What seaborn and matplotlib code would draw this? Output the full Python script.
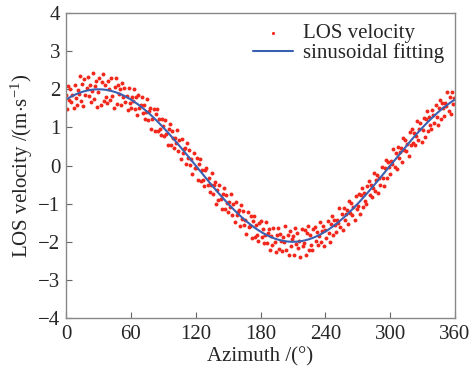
import matplotlib
matplotlib.use('Agg')
import matplotlib.pyplot as plt
import seaborn as sns
import numpy as np
import pandas as pd

# azimuth in degrees, one sample per degree
azimuth = np.arange(0, 360)

# LOS velocity (m/s), 10 degrees per row
los_velocity = [
    1.85, 1.47, 2.08, 1.73, 2.00, 1.66, 1.85, 1.51, 2.11, 1.77,
    1.59, 1.99, 1.87, 2.35, 1.69, 2.13, 1.55, 2.26, 1.86, 2.03,
    2.33, 1.82, 2.11, 1.66, 1.95, 2.42, 1.74, 2.08, 2.23, 1.54,
    1.92, 2.29, 1.58, 2.18, 2.39, 1.68, 2.11, 1.81, 1.63, 2.23,
    2.01, 1.71, 2.29, 1.83, 1.50, 2.07, 2.30, 1.61, 2.11, 1.88,
    2.00, 1.59, 2.16, 1.79, 2.03, 1.66, 1.82, 1.45, 2.03, 1.65,
    1.51, 1.79, 1.68, 2.02, 1.48, 1.79, 1.32, 1.84, 1.50, 1.60,
    1.81, 1.39, 1.59, 1.21, 1.41, 1.74, 1.19, 1.42, 1.52, 0.96,
    1.23, 1.48, 0.91, 1.34, 1.48, 0.91, 1.21, 0.95, 0.79, 1.22,
    1.03, 0.78, 1.19, 0.82, 0.54, 0.96, 1.10, 0.55, 0.91, 0.71,
    0.46, 0.73, 0.60, 0.92, 0.37, 0.67, 0.18, 0.69, 0.34, 0.43,
    0.47, 0.03, 0.59, 0.19, 0.41, 0.02, 0.16, -0.23, 0.33, -0.07,
    -0.06, 0.19, -0.39, 0.04, 0.16, -0.41, -0.12, -0.38, -0.55, -0.12,
    -0.07, -0.50, -0.32, -0.70, -0.51, -0.19, -0.75, -0.52, -0.44, -1.00,
    -0.65, -0.91, -0.50, -0.87, -1.15, -0.74, -0.59, -1.14, -0.78, -0.98,
    -1.22, -0.95, -1.08, -0.75, -1.30, -1.00, -1.48, -0.96, -1.31, -1.21,
    -1.17, -1.59, -1.03, -1.41, -1.19, -1.56, -1.42, -1.79, -1.23, -1.61,
    -1.59, -1.33, -1.90, -1.46, -1.32, -1.88, -1.57, -1.82, -1.97, -1.52,
    -1.45, -1.87, -1.67, -2.03, -1.83, -1.48, -2.03, -1.78, -1.67, -2.22,
    -1.85, -2.08, -1.65, -2.00, -2.26, -1.82, -1.65, -2.18, -1.80, -1.97,
    -2.23, -1.88, -2.00, -1.58, -2.21, -1.81, -2.36, -1.71, -2.10, -1.94,
    -1.86, -2.34, -1.63, -2.06, -1.76, -2.17, -1.97, -2.39, -1.67, -2.10,
    -2.04, -1.70, -2.34, -1.78, -1.58, -2.22, -1.81, -2.08, -2.22, -1.66,
    -1.60, -1.99, -1.75, -2.09, -1.86, -1.48, -2.00, -1.72, -1.59, -2.10,
    -1.70, -1.90, -1.45, -1.77, -2.00, -1.53, -1.33, -1.83, -1.42, -1.56,
    -1.75, -1.43, -1.51, -1.12, -1.62, -1.26, -1.69, -1.12, -1.42, -1.26,
    -1.17, -1.54, -0.92, -1.25, -0.98, -1.30, -1.10, -1.42, -0.80, -1.13,
    -1.06, -0.75, -1.26, -0.77, -0.58, -1.09, -0.72, -0.92, -1.02, -0.53,
    -0.40, -0.77, -0.52, -0.83, -0.58, -0.19, -0.68, -0.39, -0.24, -0.73,
    -0.32, -0.50, -0.03, -0.33, -0.55, -0.06, 0.15, -0.33, 0.09, -0.04,
    -0.22, 0.11, 0.05, 0.44, -0.04, 0.32, -0.09, 0.48, 0.20, 0.36,
    0.47, 0.10, 0.73, 0.40, 0.68, 0.37, 0.57, 0.25, 0.88, 0.55,
    0.96, 0.60, 0.85, 0.53, 0.78, 1.18, 0.68, 0.97, 1.12, 0.62,
    0.94, 1.25, 0.74, 1.23, 1.42, 0.91, 1.27, 1.06, 0.96, 1.45,
    1.32, 1.12, 1.59, 1.27, 1.05, 1.52, 1.73, 1.23, 1.65, 1.50,
    1.31, 1.63, 1.56, 1.94, 1.44, 1.79, 1.36, 1.92, 1.62, 1.76,
]

x_ticks = [0, 60, 120, 180, 240, 300, 360]
y_ticks = [-4, -3, -2, -1, 0, 1, 2, 3, 4]

df = pd.DataFrame({'azimuth': azimuth, 'velocity': los_velocity})

# least squares sinusoid: v = a*cos + b*sin + c
rad = np.deg2rad(df['azimuth'])
A = np.column_stack([np.cos(rad), np.sin(rad), np.ones(len(rad))])
coef, *_ = np.linalg.lstsq(A, df['velocity'], rcond=None)
fit_az = np.linspace(0, 360, 361)
fit_rad = np.deg2rad(fit_az)
fit_df = pd.DataFrame({'azimuth': fit_az,
                       'velocity': coef[0] * np.cos(fit_rad) + coef[1] * np.sin(fit_rad) + coef[2]})

sns.set_theme(style='ticks')
plt.rcParams['font.family'] = ['Liberation Serif', 'DejaVu Serif']
plt.rcParams['mathtext.fontset'] = 'custom'
plt.rcParams['mathtext.rm'] = 'Liberation Serif'
plt.rcParams['mathtext.it'] = 'Liberation Serif:italic'

fig = plt.figure(figsize=(4.73, 3.73), dpi=100)
ax = fig.add_axes([0.1395, 0.1475, 0.8225, 0.8175])

sns.scatterplot(data=df, x='azimuth', y='velocity', ax=ax, color='#f2281c',
                s=8, linewidth=0, label='LOS velocity')
sns.lineplot(data=fit_df, x='azimuth', y='velocity', ax=ax, color='#3a60b2',
             linewidth=1.5, label='sinusoidal fitting')

ax.set_xlim(0, 360)
ax.set_ylim(-4, 4)
ax.set_xticks(x_ticks)
ax.set_yticks(y_ticks)
ax.tick_params(direction='in', length=4, width=0.8, labelsize=15, color='#666666')
ax.tick_params(axis='x', pad=5)
ax.tick_params(axis='y', pad=4)
for sp in ax.spines.values():
    sp.set_color('#888888')
    sp.set_linewidth(1.0)

ax.set_xlabel('Azimuth /(°)', fontsize=15, labelpad=2)
ax.set_ylabel(r'LOS velocity /(m$\cdot$s$^{-1}$)', fontsize=15, labelpad=2)

leg = ax.legend(loc='upper right', frameon=False, fontsize=15, handlelength=1.9,
                handletextpad=0.5, labelspacing=0.0, borderaxespad=0.1, markerscale=0.8)

fig.savefig('out.png', dpi=100)
